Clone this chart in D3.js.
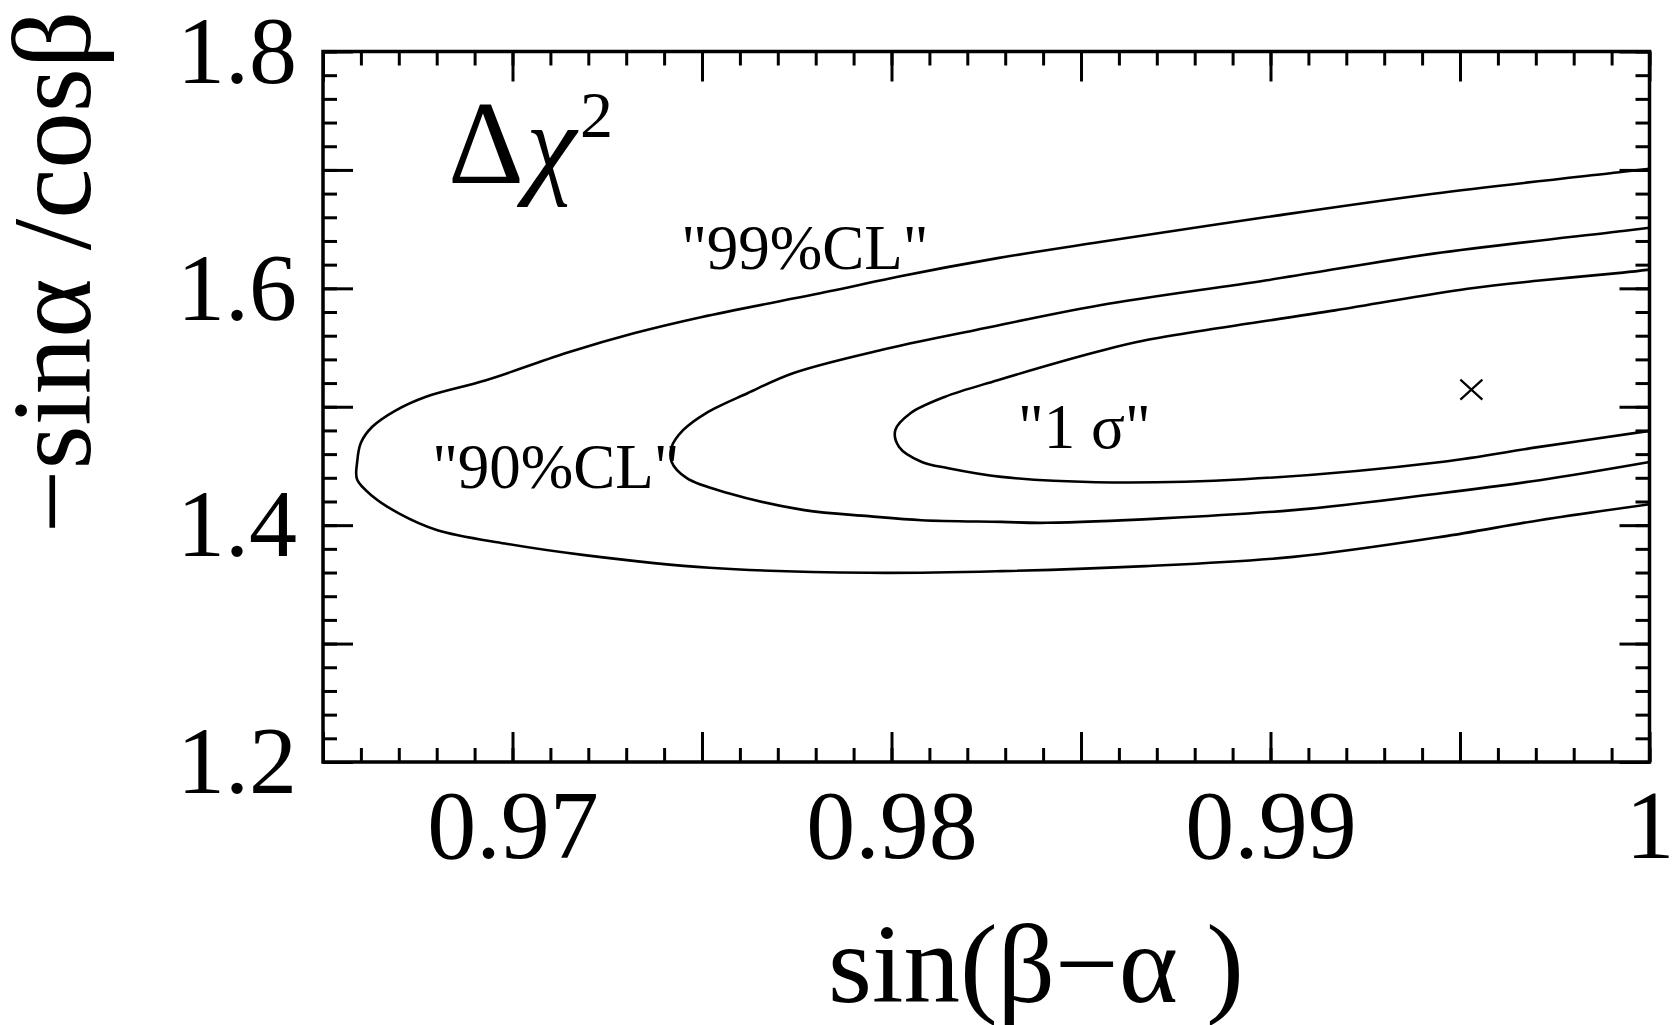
<!DOCTYPE html>
<html>
<head>
<meta charset="utf-8">
<script src="https://cdn.jsdelivr.net/npm/d3@7"></script>
<style>
  body { margin: 0; background: #fff; }
  svg { display: block; font-family: "Liberation Serif", "Times New Roman", serif; }
</style>
</head>
<body>
<svg></svg>
<script>
// contour "99%CL" (outer), from top-right round to bottom-right
const cl99X = [1.0, 0.9992, 0.9943, 0.9899, 0.9855, 0.9828, 0.9802, 0.9785, 0.9750, 0.9732, 0.9715, 0.9693, 0.9677, 0.9669, 0.9663, 0.9660, 0.9659, 0.9659, 0.9663, 0.9670, 0.9680, 0.9698, 0.9719, 0.9752, 0.9794, 0.9829, 0.9867, 0.9906, 0.9945, 0.9971, 1.0]
const cl99Y = [1.7010, 1.6981, 1.6799, 1.6602, 1.6391, 1.6255, 1.6100, 1.5983, 1.5758, 1.5620, 1.5462, 1.5224, 1.5083, 1.4966, 1.4831, 1.4696, 1.4530, 1.4385, 1.4247, 1.4100, 1.3960, 1.3845, 1.3747, 1.3640, 1.3598, 1.3612, 1.3654, 1.3732, 1.3901, 1.4042, 1.4177]

// contour "90%CL"
const cl90X = [1.0, 0.9993, 0.9943, 0.9899, 0.9855, 0.9822, 0.9797, 0.9774, 0.9762, 0.9751, 0.9745, 0.9742, 0.9742, 0.9746, 0.9757, 0.9777, 0.9794, 0.9808, 0.9829, 0.9841, 0.9906, 0.9945, 0.9971, 1.0]
const cl90Y = [1.6512, 1.6484, 1.6293, 1.6068, 1.5857, 1.5646, 1.5477, 1.5283, 1.5114, 1.4945, 1.4802, 1.4661, 1.4534, 1.4397, 1.4270, 1.4127, 1.4076, 1.4042, 1.4028, 1.4020, 1.4127, 1.4270, 1.4380, 1.4534]

// contour "1 sigma"
const sigma1X = [1.0, 0.9993, 0.9971, 0.9952, 0.9917, 0.9867, 0.9854, 0.9828, 0.9814, 0.9805, 0.9801, 0.9802, 0.9808, 0.9815, 0.9829, 0.9854, 0.9893, 0.9945, 0.9971, 1.0]
const sigma1Y = [1.6158, 1.6133, 1.6066, 1.5997, 1.5814, 1.5561, 1.5462, 1.5224, 1.5083, 1.4945, 1.4802, 1.4661, 1.4534, 1.4481, 1.4408, 1.4363, 1.4388, 1.4534, 1.4661, 1.4796]

// best fit point
const bestFit = [0.9953, 1.5145]

const xTickValues = [0.97, 0.98, 0.99, 1.0]
const xTickLabels = ['0.97', '0.98', '0.99', '1']
const yTickValues = [1.2, 1.4, 1.6, 1.8]
const yTickLabels = ['1.2', '1.4', '1.6', '1.8']

const contourNames = ['"99%CL"', '"90%CL"', '"1 σ"']
const contourNameX = [0.97445, 0.96788, 0.98334]
const contourNameY = [1.616, 1.4312, 1.465]

const svgWidth = 1672
const svgHeight = 1025
const margin = { top: 51.5, right: 22.5, bottom: 263, left: 323 }
const plotLeft = margin.left
const plotRight = svgWidth - margin.right
const plotTop = margin.top
const plotBottom = svgHeight - margin.bottom

const svg = d3.select('svg')
  .attr('width', svgWidth)
  .attr('height', svgHeight)

const x = d3.scaleLinear().domain([0.965, 1.0]).range([plotLeft, plotRight])
const y = d3.scaleLinear().domain([1.2, 1.8]).range([plotBottom, plotTop])

// inward ticks on all four sides
const sides = [
  [d3.axisBottom, x, `translate(0,${plotBottom})`],
  [d3.axisTop, x, `translate(0,${plotTop})`],
  [d3.axisLeft, y, `translate(${plotLeft},0)`],
  [d3.axisRight, y, `translate(${plotRight},0)`]
]
sides.forEach(([axisFn, scale, tr]) => {
  const minor = scale === x ? x.ticks(35) : y.ticks(30)
  const major = scale === x ? x.ticks(7) : y.ticks(6)
  ;[[minor, -14], [major, -30]].forEach(([vals, size]) => {
    svg.append('g')
      .attr('transform', tr)
      .call(axisFn(scale).tickValues(vals).tickSize(size).tickFormat(''))
      .call(g => g.select('.domain').remove())
      .call(g => g.selectAll('line').attr('stroke', '#000').attr('stroke-width', 3))
  })
})

// tick labels
svg.append('g')
  .attr('transform', `translate(0,${plotBottom})`)
  .call(d3.axisBottom(x).tickValues(xTickValues).tickSize(0).tickPadding(26)
    .tickFormat((d, i) => xTickLabels[i]))
  .call(g => g.select('.domain').remove())
  .call(g => g.attr('font-family', null).attr('font-size', null))
  .call(g => g.selectAll('text').attr('font-size', 98).attr('fill', '#000'))

svg.append('g')
  .attr('transform', `translate(${plotLeft},0)`)
  .call(d3.axisLeft(y).tickValues(yTickValues).tickSize(0).tickPadding(26)
    .tickFormat((d, i) => yTickLabels[i]))
  .call(g => g.select('.domain').remove())
  .call(g => g.attr('font-family', null).attr('font-size', null))
  .call(g => g.selectAll('text').attr('font-size', 96).attr('fill', '#000'))

// frame
svg.append('rect')
  .attr('x', plotLeft).attr('y', plotTop)
  .attr('width', plotRight - plotLeft).attr('height', plotBottom - plotTop)
  .attr('fill', 'none').attr('stroke', '#000').attr('stroke-width', 3.5)

svg.append('clipPath').attr('id', 'plot')
  .append('rect')
  .attr('x', plotLeft).attr('y', plotTop)
  .attr('width', plotRight - plotLeft).attr('height', plotBottom - plotTop)

const line = d3.line()
  .x(d => x(d[0]))
  .y(d => y(d[1]))
  .curve(d3.curveCatmullRom.alpha(0.5))

const contours = [
  d3.zip(cl99X, cl99Y),
  d3.zip(cl90X, cl90Y),
  d3.zip(sigma1X, sigma1Y)
]

svg.append('g')
  .attr('clip-path', 'url(#plot)')
  .selectAll('path')
  .data(contours)
  .enter()
  .append('path')
  .attr('d', line)
  .attr('fill', 'none')
  .attr('stroke', '#000')
  .attr('stroke-width', 2.6)
  .attr('stroke-linejoin', 'round')

// best fit cross
const bx = x(bestFit[0])
const by = y(bestFit[1])
svg.append('path')
  .attr('d', `M${bx - 11},${by - 10}L${bx + 11},${by + 10}M${bx - 11},${by + 10}L${bx + 11},${by - 10}`)
  .attr('stroke', '#000')
  .attr('stroke-width', 2.2)

// contour labels
svg.selectAll('.clabel')
  .data(contourNames)
  .enter()
  .append('text')
  .attr('class', 'clabel')
  .attr('x', (d, i) => x(contourNameX[i]))
  .attr('y', (d, i) => y(contourNameY[i]))
  .attr('font-size', 63)
  .attr('xml:space', 'preserve')
  .text(d => d)

// delta chi^2
const dchi = svg.append('text')
  .attr('x', x(0.9683))
  .attr('y', y(1.6886))
  .attr('font-size', 118)
dchi.append('tspan').text('Δ')
dchi.append('tspan').attr('font-style', 'italic').attr('font-size', 114).attr('dx', 2).text('χ')
dchi.append('tspan').attr('font-size', 66).attr('dx', 4).attr('dy', -46).text('2')

// axis titles
svg.append('text')
  .attr('x', 1036)
  .attr('y', 1002)
  .attr('text-anchor', 'middle')
  .attr('font-size', 113)
  .text('sin(β−α )')

svg.append('text')
  .attr('transform', 'translate(90,272) rotate(-90)')
  .attr('text-anchor', 'middle')
  .attr('font-size', 113)
  .text('−sinα /cosβ')
</script>
</body>
</html>
